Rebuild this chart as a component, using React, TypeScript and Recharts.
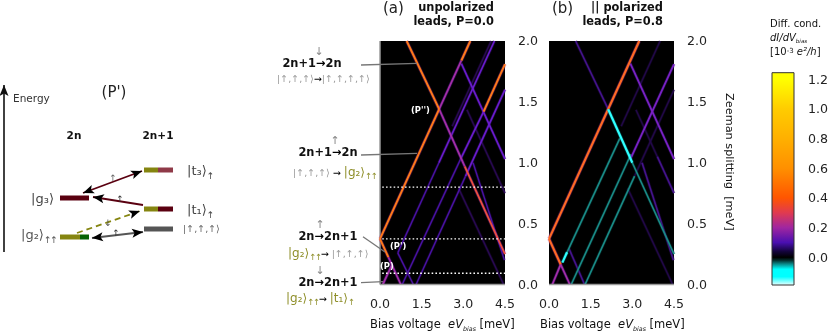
import React from "react";
import { ComposedChart, LineChart, Line, Bar, XAxis, YAxis, ReferenceLine, ReferenceArea, ReferenceDot } from "recharts";

type Seg = number[];
const xTicks = [0, 1.5, 3, 4.5];
const yTicks = [0, 0.5, 1, 1.5, 2];
const barTicks = [0, 0.2, 0.4, 0.6, 0.8, 1, 1.2];
const dottedLevels = [0.8, 0.375, 0.093];

// Panel (a): resonance lines, [x1, y1, x2, y2] in meV
const aOrange: Seg[] = [[0, 0.375, 2.13, 1.44], [0.96, 2, 2.13, 1.44], [2.93, 1.84, 3.25, 2], [0, 0.375, 0.3, 0.225], [3.73, 1.42, 4.5, 1.81]];
const aRed: Seg[] = [[3.05, 0.97, 4.5, 0.25]];
const aMagenta: Seg[] = [[0.3, 0.225, 0.75, 0], [0.1, 0, 0.425, 0.16], [2.13, 1.44, 3.05, 0.97], [2.13, 1.44, 2.93, 1.84]];
const aPurple: Seg[] = [[2.12, 1.0, 4.12, 2], [2.9, 1.03, 3.73, 1.42], [2.93, 1.815, 4.5, 1.03], [3.08, 0.89, 4.5, 1.6]];
const aDark: Seg[] = [[0.64, 0.26, 2.12, 1.0], [0.8, 0, 2.9, 1.03], [0.64, 0.26, 1.2, 0], [1.3, 0, 3.08, 0.89], [3.35, 1, 4.48, 0.2]];
const aDim: Seg[] = [[3.13, 1.435, 4.5, 0.75], [2.83, 0.79, 4.45, 0], [2.6, 1.3, 4, 2]];

// Panel (b)
const bOrange: Seg[] = [[0, 0.375, 3.25, 2], [0, 0.375, 0.42, 0.165]];
const bMagenta: Seg[] = [[0.42, 0.165, 0.75, 0], [0.12, 0, 0.42, 0.165]];
const bPurple: Seg[] = [[2.93, 1.815, 4.5, 1.03], [2.93, 1.03, 4.5, 1.81]];
const bDark: Seg[] = [[0.72, 0.295, 1.28, 0], [0.96, 2, 2.13, 1.44], [3.35, 1, 4.48, 0.2], [3.9, 1.05, 4.5, 0.75]];
const bDim: Seg[] = [[2.6, 1.3, 4, 2], [3.08, 0.89, 4.5, 1.6], [3.13, 1.435, 3.9, 1.05], [2.83, 0.79, 4.45, 0]];
const bTeal: Seg[] = [[0.62, 0.25, 2.55, 1.2], [0.8, 0, 2.95, 1.07], [1.3, 0, 3.08, 0.89], [3.0, 1.0, 4.5, 0.25]];
const bCyan: Seg[] = [[2.13, 1.44, 3.0, 1.0], [0.48, 0.18, 0.65, 0.265]];

const colorbarRange = [{ name: "dI/dV", range: [-0.186, 1.243] }];
const colorbarStops = [
  [1.2, "#ffff00"], [1.0, "#ffcc00"], [0.8, "#ffb000"], [0.6, "#ff9000"], [0.4, "#ff5500"], [0.3, "#e03a50"], [0.2, "#a026a0"],
  [0.1, "#4a0fb0"], [0.04, "#14043c"], [0.0, "#000000"], [-0.02, "#04302f"], [-0.045, "#0a8a8a"], [-0.08, "#00ffff"], [-0.13, "#00ffff"], [-0.186, "#e8ffff"],
] as [number, string][];

// Level diagram (P'), in diagram units with the energy axis pointing down the page
const levelMaroon: Seg[] = [[60, 198, 89, 198], [158, 209, 173, 209]];
const levelMaroonLight: Seg[] = [[158, 170, 173, 170]];
const levelOlive: Seg[] = [[60, 237, 80, 237], [144, 170, 158, 170], [144, 209, 158, 209]];
const levelGreen: Seg[] = [[80, 237, 89, 237]];
const levelGrey: Seg[] = [[144, 229, 173, 229]];
const arrowsMaroon: Seg[] = [[83, 193, 142, 171]];
const arrowsMaroonOneWay: Seg[] = [[143, 205, 93, 197]];
const arrowsOliveDashed: Seg[] = [[77, 233, 140, 211]];
const arrowsGrey: Seg[] = [[92, 238, 143, 232]];
const energyAxis: Seg = [4, 252, 4, 85];
const leaders: Seg[] = [[361, 65, 417, 63.3], [361, 155, 417, 153.3], [363, 236.7, 385, 252], [361, 282.7, 383, 281.7]];

const FONT = "'DejaVu Sans', sans-serif";
const toPts = (s: Seg) => [{ x: s[0], y: s[1] }, { x: s[2], y: s[3] }];

const headAt = (x: number, y: number, angle: number, fill: string, key: string) => (
  <ReferenceDot key={key} x={x} y={y} r={1} ifOverflow="visible"
    shape={(p: any) => <polygon points="0,0 -11,-4.5 -8.5,0 -11,4.5" fill={fill} transform={`translate(${p.cx},${p.cy}) rotate(${angle})`} />} />
);

const arrow = (s: Seg, both: boolean, stroke: string, fill: string, key: string, dash?: string, width = 1.8) => {
  const a = (Math.atan2(s[3] - s[1], s[2] - s[0]) * 180) / Math.PI;
  return [
    <Line key={key} data={toPts(s)} dataKey="y" stroke={stroke} strokeWidth={width} strokeDasharray={dash} dot={false} activeDot={false} isAnimationActive={false} legendType="none" />,
    headAt(s[2], s[3], a, fill, key + "h1"),
    both ? headAt(s[0], s[1], a + 180, fill, key + "h0") : null,
  ];
};

const segLines = (segs: Seg[], colour: string, width: number, key: string, opacity = 1) =>
  segs.map((s, i) => (
    <Line key={key + i} data={toPts(s)} dataKey="y" type="linear" stroke={colour} strokeWidth={width} strokeOpacity={opacity} dot={false} activeDot={false} isAnimationActive={false} legendType="none" />
  ));

type Group = [Seg[], string, number, string];

function Panel({ left, groups, dotted, spine }: { left: number; groups: Group[]; dotted?: boolean; spine?: boolean }) {
  return (
    <div style={{ position: "absolute", left: left - 10, top: 31 }}>
      <LineChart width={175} height={285} margin={{ top: 10, left: 10, right: 0, bottom: 0 }}>
        <XAxis type="number" dataKey="x" domain={[0, 4.5]} ticks={xTicks} allowDuplicatedCategory={false} tickFormatter={(v: number) => v.toFixed(1)} tickLine={false} tickSize={0} tickMargin={15} interval={0}
          height={31.5} axisLine={{ stroke: "#9a9a9a", strokeWidth: 1.5 }} tick={{ fontFamily: FONT, fontSize: 12.6, fill: "#222" }} />
        <YAxis type="number" orientation="right" domain={[0, 2]} ticks={yTicks} tickFormatter={(v: number) => v.toFixed(1)} tickLine={false} tickSize={0} tickMargin={13} width={40} interval={0}
          axisLine={false} tick={{ fontFamily: FONT, fontSize: 12.6, fill: "#222" }} />
        <ReferenceArea x1={0} x2={4.5} y1={0} y2={2} fill="#000" fillOpacity={1} stroke="none" />
        {spine ? <ReferenceLine segment={[{ x: 0, y: 0 }, { x: 0, y: 2 }]} stroke="#9a9a9a" strokeWidth={1.5} /> : null}
        {groups.flatMap((g, i) => [
          ...segLines(g[0], g[3], g[2] + 1.4, "h" + i + "-", 0.4),
          ...segLines(g[0], g[1], g[2], "g" + i + "-"),
        ])}
        {dotted ? dottedLevels.map((y) => <ReferenceLine key={y} segment={[{ x: 0.08, y }, { x: 4.5, y }]} stroke="#fff" strokeWidth={1.4} strokeDasharray="1.6 2.2" />) : null}
      </LineChart>
    </div>
  );
}

function Note({ x, y, size = 11, bold, italic, color = "#111", align = "left", children }: any) {
  const tx = align === "center" ? "-50%" : align === "right" ? "-100%" : "0";
  return (
    <div style={{ position: "absolute", left: x, top: y, transform: `translate(${tx},-50%)`, fontFamily: FONT, fontSize: size, fontWeight: bold ? 700 : 400, fontStyle: italic ? "italic" : "normal", color, whiteSpace: "pre", lineHeight: 1 }}>
      {children}
    </div>
  );
}

const OLIVE = "#8f8f2a";
const GREY = "#9a9a9a";
const Spins = ({ children }: any) => <span style={{ fontSize: "0.7em", position: "relative", top: "0.4em", letterSpacing: "-0.15em" }}>{children}</span>;
const Tiny = ({ children }: any) => <span style={{ fontSize: "0.55em", position: "relative", top: "0.4em" }}><i>{children}</i></span>;
const Ar = () => <span style={{ color: "#000" }}>→</span>;

export default function App() {
  return (
    <div style={{ position: "absolute", left: 0, top: 0, width: 828, height: 332, overflow: "hidden", background: "#fff", filter: "blur(0.35px)" }}>
      <Panel left={380} dotted spine groups={[[aDim, "#2a0a54", 1.3, "#2a0a54"], [aDark, "#4a12a4", 1.4, "#2a0a60"], [aPurple, "#6a1ccc", 1.7, "#3a0e80"], [aMagenta, "#a52ea8", 1.8, "#5a18a0"], [aRed, "#ee5040", 1.8, "#8a22b0"], [aOrange, "#ff7a1a", 2, "#a02a90"]]} />
      <Panel left={549} groups={[[bDim, "#23094a", 1.3, "#23094a"], [bDark, "#45148c", 1.6, "#2a0a60"], [bTeal, "#1a8c88", 1.6, "#0a4a48"], [bPurple, "#7a22c4", 1.8, "#3a0e80"], [bMagenta, "#a52ea8", 1.8, "#5a18a0"], [bOrange, "#ff6a24", 2.2, "#a02a90"], [bCyan, "#30ffff", 2.2, "#108a8a"]]} />

      <div style={{ position: "absolute", left: 760, top: 62 }}>
        <ComposedChart width={68} height={233} data={colorbarRange} margin={{ top: 10.7, left: 12, right: 0, bottom: 10 }} barCategoryGap={0}>
          <defs>
            <linearGradient id="cb" x1="0" y1="0" x2="0" y2="1">
              {colorbarStops.map(([v, c]) => <stop key={v} offset={(1.243 - v) / 1.429} stopColor={c} />)}
            </linearGradient>
          </defs>
          <XAxis dataKey="name" hide />
          <YAxis type="number" orientation="right" domain={[-0.186, 1.243]} ticks={barTicks} tickFormatter={(v: number) => v.toFixed(1)} tickLine={false} tickSize={0} tickMargin={14} width={34} interval={0}
            axisLine={false} tick={{ fontFamily: FONT, fontSize: 12.6, fill: "#222" }} />
          <Bar dataKey="range" fill="url(#cb)" stroke="#333" strokeWidth={1} isAnimationActive={false} />
        </ComposedChart>
      </div>

      <div style={{ position: "absolute", left: 0, top: 0 }}>
        <LineChart width={828} height={332} margin={{ top: 0, left: 0, right: 0, bottom: 0 }}>
          <XAxis type="number" dataKey="x" domain={[0, 828]} hide allowDuplicatedCategory={false} />
          <YAxis type="number" domain={[0, 332]} reversed hide />
          {segLines(leaders, "#777", 1.3, "lead")}
          {segLines(levelMaroon, "#5a0010", 5, "lm")}
          {segLines(levelMaroonLight, "#8f3a48", 5, "ll")}
          {segLines(levelOlive, "#858510", 5, "lo")}
          {segLines(levelGreen, "#056305", 5, "lg")}
          {segLines(levelGrey, "#555", 5, "lgr")}
          <ReferenceLine segment={[{ x: energyAxis[0], y: energyAxis[1] }, { x: energyAxis[2], y: energyAxis[3] }]} stroke="#111" strokeWidth={1.6} />
          {headAt(energyAxis[2], energyAxis[3], -90, "#111", "eh")}
          {arrowsMaroon.flatMap((s, i) => arrow(s, true, "#5a0010", "#000", "am" + i))}
          {arrowsMaroonOneWay.flatMap((s, i) => arrow(s, false, "#5a0010", "#000", "ao" + i))}
          {arrowsOliveDashed.flatMap((s, i) => arrow(s, false, "#858510", "#000", "ad" + i, "6 4"))}
          {arrowsGrey.flatMap((s, i) => arrow(s, true, "#555", "#000", "ag" + i))}
        </LineChart>
      </div>

      <Note x={13} y={98} size={10.5} color="#333">Energy</Note>
      <Note x={114} y={92} size={15} align="center" color="#222">(P')</Note>
      <Note x={74} y={135} size={10.5} bold align="center">2n</Note>
      <Note x={158} y={135} size={10.5} bold align="center">2n+1</Note>
      <Note x={113} y={178} size={9} align="center" color="#666">↑</Note>
      <Note x={120} y={199} size={9} align="center" color="#333">↑</Note>
      <Note x={108} y={223} size={9} align="center" color="#555">↓</Note>
      <Note x={116} y={233} size={9} align="center" color="#333">↑</Note>
      <Note x={54} y={198} size={13} align="right" color="#444">|g₃⟩</Note>
      <Note x={21} y={235} size={13} color="#555">|g₂⟩<Spins>↑↑</Spins></Note>
      <Note x={187} y={171} size={13} color="#444">|t₃⟩<Spins>↑</Spins></Note>
      <Note x={187} y={210} size={13} color="#444">|t₁⟩<Spins>↑</Spins></Note>
      <Note x={183} y={229} size={9.5} color="#666">|↑,↑,↑⟩</Note>

      <Note x={383} y={8} size={15} color="#222">(a)</Note>
      <Note x={494} y={8} size={11.4} bold align="right">unpolarized</Note>
      <Note x={494} y={22} size={11.4} bold align="right">leads, P=0.0</Note>
      <Note x={552} y={8} size={15} color="#222">(b)</Note>
      <Note x={663} y={8} size={11.4} bold align="right">|| polarized</Note>
      <Note x={663} y={22} size={11.4} bold align="right">leads, P=0.8</Note>

      <Note x={770} y={24} size={10}>Diff. cond.</Note>
      <Note x={770} y={38} size={10}><i>dI/dV</i><Tiny>bias</Tiny></Note>
      <Note x={770} y={52} size={10}>[10<span style={{ fontSize: "0.7em", position: "relative", top: "-0.3em" }}>-3</span> <i>e²/h</i>]</Note>

      <Note x={411} y={110} size={8.4} bold color="#fff">(P'')</Note>
      <Note x={390} y={246} size={8.4} bold color="#fff">(P')</Note>
      <Note x={380} y={266} size={8.4} bold color="#fff">(P)</Note>

      <Note x={312} y={64} size={11.4} bold align="center">2n+1<Ar />2n</Note>
      <Note x={319} y={50.5} size={11} align="center" color="#888">↓</Note>
      <Note x={277} y={79} size={9.5} color={GREY}>|↑,↑,↑⟩<Ar />|↑,↑,↑,↑⟩</Note>
      <Note x={328} y={153} size={11.4} bold align="center">2n+1<Ar />2n</Note>
      <Note x={335} y={139.5} size={11} align="center" color="#888">↑</Note>
      <Note x={293} y={172} size={9.5} color={GREY}>|↑,↑,↑⟩ <Ar /> <span style={{ color: OLIVE, fontSize: 12 }}>|g₂⟩<Spins>↑↑</Spins></span></Note>
      <Note x={328} y={237} size={11.4} bold align="center">2n<Ar />2n+1</Note>
      <Note x={320} y={223.5} size={11} align="center" color="#888">↑</Note>
      <Note x={288} y={253} size={12} color={OLIVE}>|g₂⟩<Spins>↑↑</Spins><span style={{ fontSize: 9.5 }}><Ar /> </span><span style={{ color: GREY, fontSize: 9.5 }}>|↑,↑,↑⟩</span></Note>
      <Note x={328} y={283} size={11.4} bold align="center">2n<Ar />2n+1</Note>
      <Note x={320} y={269.5} size={11} align="center" color="#888">↓</Note>
      <Note x={286} y={298} size={12} color={OLIVE}>|g₂⟩<Spins>↑↑</Spins><span style={{ fontSize: 9.5 }}><Ar /> </span>|t₁⟩<Spins>↑</Spins></Note>

      <Note x={370} y={325} size={11.5}>Bias voltage  <i>eV</i><Tiny>bias</Tiny> [meV]</Note>
      <Note x={540} y={325} size={11.5}>Bias voltage  <i>eV</i><Tiny>bias</Tiny> [meV]</Note>
      <div style={{ position: "absolute", left: 724, top: 93, writingMode: "vertical-rl", fontFamily: FONT, fontSize: 11.3, color: "#111", whiteSpace: "pre", lineHeight: 1 }}>Zeeman splitting  [meV]</div>
    </div>
  );
}
